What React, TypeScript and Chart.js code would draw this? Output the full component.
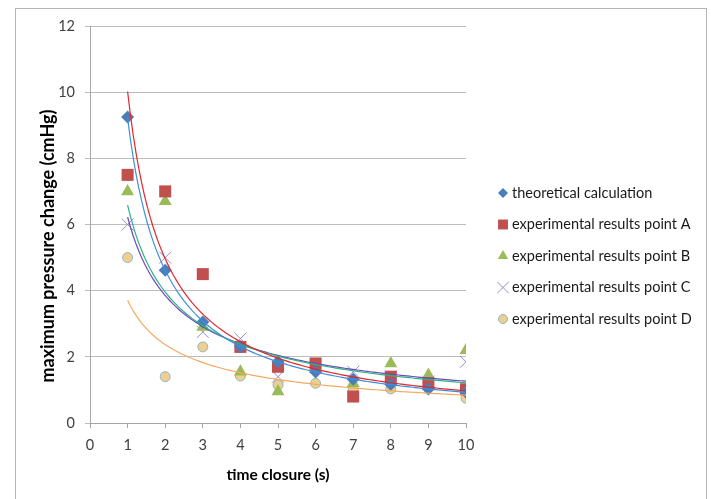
import React, { useEffect, useRef } from "react";
import { Chart, registerables } from "chart.js";
import { drawPoint } from "chart.js/helpers";

Chart.register(...registerables);

const FONT = "Lato, 'Open Sans', sans-serif";

const timeClosure = [1, 2, 3, 4, 5, 6, 7, 8, 9, 10];
const theoretical = [9.25, 4.62, 3.05, 2.31, 1.85, 1.54, 1.32, 1.16, 1.03, 0.93];
const pointA = [7.5, 7.0, 4.5, 2.3, 1.7, 1.8, 0.8, 1.4, 1.2, 1.02];
const pointB = [7.0, 6.7, 2.9, 1.55, 0.95, 1.7, 1.2, 1.8, 1.45, 2.2];
const pointC = [6.0, 5.0, 2.75, 2.55, 1.4, 1.7, 1.55, 1.4, 1.25, 1.85];
const pointD = [5.0, 1.4, 2.3, 1.42, 1.15, 1.2, 1.0, 1.03, 1.2, 0.75];

const seriesNames = [
  "theoretical calculation",
  "experimental results point A",
  "experimental results point B",
  "experimental results point C",
  "experimental results point D",
];
const seriesValues = [theoretical, pointA, pointB, pointC, pointD];

const xTitle = "time closure (s)";
const yTitle = "maximum pressure change (cmHg)";

const markerStyles = [
  { style: "rectRot", r: 6.5, legendR: 5, bg: "#4A7EBB", border: "#4A7EBB", bw: 0 },
  { style: "rect", r: 8.5, legendR: 7, bg: "#C0504D", border: "#C0504D", bw: 0 },
  { style: "triangle", r: 7.5, legendR: 6, bg: "#9BBB59", border: "#9BBB59", bw: 0 },
  { style: "crossRot", r: 8.5, legendR: 8, bg: "rgba(0,0,0,0)", border: "#9A8BC8", bw: 1 },
  { style: "circle", r: 5, legendR: 4.5, bg: "#EFCF8E", border: "#8FB6C4", bw: 1 },
];
const trendColors = ["#3F8FD8", "#E3262A", "#28B487", "#7446B8", "#F5A862"];

// power-law trendline (least squares on logs), as the spreadsheet does
function powerFit(xs: number[], ys: number[]) {
  const lx = xs.map(Math.log);
  const ly = ys.map(Math.log);
  const n = xs.length;
  const mx = lx.reduce((s, v) => s + v, 0) / n;
  const my = ly.reduce((s, v) => s + v, 0) / n;
  let sxy = 0;
  let sxx = 0;
  for (let i = 0; i < n; i++) {
    sxy += (lx[i] - mx) * (ly[i] - my);
    sxx += (lx[i] - mx) * (lx[i] - mx);
  }
  const b = sxy / sxx;
  const a = Math.exp(my - b * mx);
  return { a, b };
}

function trendPoints(xs: number[], ys: number[]) {
  const { a, b } = powerFit(xs, ys);
  const pts: { x: number; y: number }[] = [];
  const x0 = xs[0];
  const x1 = xs[xs.length - 1];
  const steps = 120;
  for (let i = 0; i <= steps; i++) {
    const x = x0 + ((x1 - x0) * i) / steps;
    pts.push({ x, y: a * Math.pow(x, b) });
  }
  return pts;
}

const legendPlugin = {
  id: "customLegend",
  afterDraw(chart: any) {
    const ctx = chart.ctx;
    ctx.save();
    seriesNames.forEach((name, i) => {
      const st = markerStyles[i];
      const y = 193 + i * 31.5;
      ctx.fillStyle = st.bg;
      ctx.strokeStyle = st.border;
      ctx.lineWidth = st.bw;
      drawPoint(ctx, { pointStyle: st.style, radius: st.legendR, borderWidth: st.bw, rotation: 0 } as any, 503, y);
      ctx.fillStyle = "#1a1a1a";
      ctx.font = `14.5px ${FONT}`;
      ctx.textBaseline = "middle";
      ctx.textAlign = "left";
      ctx.fillText(name, 512, y);
    });
    // y-axis title
    ctx.translate(48, 246);
    ctx.rotate(-Math.PI / 2);
    ctx.fillStyle = "#000";
    ctx.font = `bold 18px ${FONT}`;
    ctx.textAlign = "center";
    ctx.textBaseline = "middle";
    ctx.fillText(yTitle, 0, 0);
    ctx.restore();
  },
};

export default function App() {
  const ref = useRef<HTMLCanvasElement>(null);
  useEffect(() => {
    if (!ref.current) return;
    const datasets: any[] = [];
    seriesValues.forEach((vals, i) => {
      datasets.push({
        type: "line",
        label: seriesNames[i] + " trend",
        data: trendPoints(timeClosure, vals),
        borderColor: trendColors[i],
        borderWidth: 1.2,
        pointRadius: 0,
        fill: false,
        tension: 0,
        order: 0,
      });
    });
    seriesValues.forEach((vals, i) => {
      const st = markerStyles[i];
      datasets.push({
        type: "scatter",
        label: seriesNames[i],
        data: timeClosure.map((x, j) => ({ x, y: vals[j] })),
        pointStyle: st.style,
        pointRadius: st.r,
        pointBackgroundColor: st.bg,
        pointBorderColor: st.border,
        pointBorderWidth: st.bw,
        showLine: false,
        order: 1,
      });
    });

    const chart = new Chart(ref.current, {
      type: "scatter",
      data: { datasets },
      options: {
        responsive: false,
        animation: false,
        devicePixelRatio: 1,
        layout: { padding: { top: 26, right: 245, left: 0, bottom: 0 } },
        plugins: { legend: { display: false }, tooltip: { enabled: false } },
        scales: {
          x: {
            type: "linear",
            min: 0,
            max: 10,
            ticks: { stepSize: 1, color: "#404040", font: { size: 14.5, family: FONT }, padding: 9, maxRotation: 0 },
            grid: { drawOnChartArea: false, drawTicks: true, tickLength: 5, color: "#a6a6a6" },
            border: { color: "#a6a6a6" },
            title: {
              display: true,
              text: xTitle,
              color: "#000",
              font: { size: 15.5, weight: "bold", family: FONT },
              padding: { top: 0, bottom: 15 },
            },
            afterFit: (s: any) => {
              s.height = 76;
            },
          },
          y: {
            type: "linear",
            min: 0,
            max: 12,
            ticks: { stepSize: 2, color: "#404040", font: { size: 14.5, family: FONT }, padding: 10 },
            grid: { drawOnChartArea: true, drawTicks: true, tickLength: 5, color: "#bcbcbc" },
            border: { color: "#a6a6a6" },
            title: { display: false },
            afterFit: (s: any) => {
              s.width = 90;
            },
          },
        },
      },
      plugins: [legendPlugin],
    } as any);
    return () => chart.destroy();
  }, []);

  return (
    <div style={{ position: "absolute", left: 0, top: 0, width: 711, height: 499, overflow: "hidden", background: "#fff" }}>
      <div
        style={{
          position: "absolute",
          left: 15,
          top: 8,
          width: 692,
          height: 520,
          border: "1px solid #b4b4b4",
          boxSizing: "border-box",
        }}
      />
      <canvas ref={ref} width={711} height={499} style={{ position: "absolute", left: 0, top: 0 }} />
    </div>
  );
}
